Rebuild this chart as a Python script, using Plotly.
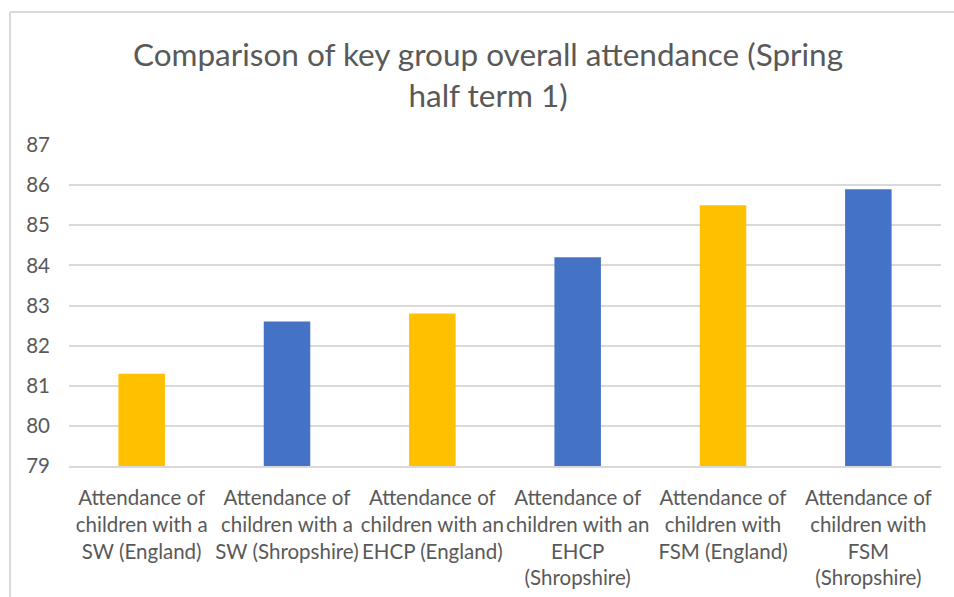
import plotly.graph_objects as go

categories = [
    "Attendance of<br>children with a<br>SW (England)",
    "Attendance of<br>children with a<br>SW (Shropshire)",
    "Attendance of<br>children with an<br>EHCP (England)",
    "Attendance of<br>children with an<br>EHCP<br>(Shropshire)",
    "Attendance of<br>children with<br>FSM (England)",
    "Attendance of<br>children with<br>FSM<br>(Shropshire)",
]
values = [81.3, 82.6, 82.8, 84.2, 85.5, 85.9]
bar_colors = ["#FFC000", "#4472C4", "#FFC000", "#4472C4", "#FFC000", "#4472C4"]
y_ticks = [79, 80, 81, 82, 83, 84, 85, 86, 87]

FONT = "Lato, Open Sans, sans-serif"
GRAY = "#595959"

fig = go.Figure(
    go.Bar(
        x=categories,
        y=values,
        marker=dict(color=bar_colors, line=dict(width=0)),
        width=0.32,
    )
)

W, H = 954, 597
L, R, T, B = 69, 13, 145, 131
pw = W - L - R
ph = H - T - B

fig.update_layout(
    width=W,
    height=H,
    margin=dict(l=L, r=R, t=T, b=B),
    paper_bgcolor="white",
    plot_bgcolor="white",
    showlegend=False,
    title=dict(
        text="Comparison of key group overall attendance (Spring<br>half term 1)",
        x=488 / W,
        xanchor="center",
        y=1 - 66 / H,
        yanchor="middle",
        font=dict(family=FONT, size=31.5, color=GRAY),
    ),
    font=dict(family=FONT, color=GRAY),
    xaxis=dict(
        tickfont=dict(family=FONT, size=20.5, color=GRAY),
        showline=True,
        linecolor="#D9D9D9",
        linewidth=1.5,
        ticks="",
        tickangle=0,
        ticklabelstandoff=13,
        automargin=False,
    ),
    yaxis=dict(
        range=[79, 87],
        tickvals=y_ticks,
        ticktext=[str(v) for v in y_ticks],
        tickfont=dict(family=FONT, size=20.5, color=GRAY),
        showgrid=True,
        gridcolor="#D9D9D9",
        gridwidth=1.5,
        zeroline=False,
        ticks="",
        ticklabelstandoff=18,
        automargin=False,
    ),
    shapes=[
        dict(
            type="line", xref="paper", yref="paper",
            x0=(10 - L) / pw, x1=(W + 5 - L) / pw,
            y0=1 + (T - 12) / ph, y1=1 + (T - 12) / ph,
            line=dict(color="#D9D9D9", width=2),
        ),
        dict(
            type="line", xref="paper", yref="paper",
            x0=(10 - L) / pw, x1=(10 - L) / pw,
            y0=1 + (T - 12) / ph, y1=-(H + 5 - (T + ph)) / ph,
            line=dict(color="#D9D9D9", width=2),
        ),
    ],
)

fig.write_html(
    "out.html",
    config={"displayModeBar": False},
    post_script="document.body.style.margin='0';document.body.style.padding='0';",
)
